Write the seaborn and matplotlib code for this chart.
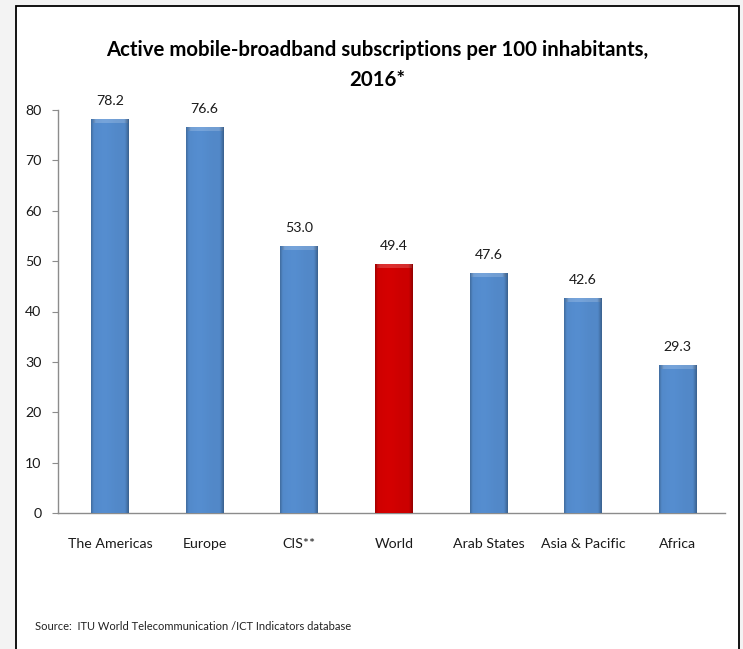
import numpy as np
import pandas as pd
import matplotlib
matplotlib.use("Agg")
import matplotlib.pyplot as plt
import seaborn as sns
from matplotlib.patches import Rectangle
from matplotlib.colors import to_rgb
from matplotlib import font_manager

# ---------------- data ----------------
categories = ["The Americas", "Europe", "CIS**", "World", "Arab States", "Asia & Pacific", "Africa"]
values = [78.2, 76.6, 53.0, 49.4, 47.6, 42.6, 29.3]
value_labels = ["78.2", "76.6", "53.0", "49.4", "47.6", "42.6", "29.3"]
y_ticks = [0, 10, 20, 30, 40, 50, 60, 70, 80]
title_line1 = "Active mobile-broadband subscriptions per 100 inhabitants,"
title_line2 = "2016*"
source_text = "Source:  ITU World Telecommunication /ICT Indicators database"
highlight = "World"

# ---------------- style ----------------
sns.set_theme(style="white")
names = {f.name for f in font_manager.fontManager.ttflist}
narrow = "Liberation Sans Narrow" in names
if narrow:
    plt.rcParams["font.family"] = ["Liberation Sans Narrow", "DejaVu Sans"]
    fs_title, fs_tick, fs_src = 16, 11.5, 9
else:
    plt.rcParams["font.family"] = ["Lato", "DejaVu Sans"]
    fs_title, fs_tick, fs_src = 14.7, 10.2, 8

W, H = 743, 649
fig = plt.figure(figsize=(W / 100, H / 100), dpi=100)
fig.patch.set_facecolor("#f3f3f3")
panel = Rectangle((16 / W, -0.01), (739 - 16) / W, 1 - 6 / H + 0.01,
                  transform=fig.transFigure, facecolor="white",
                  edgecolor="black", lw=1.3, zorder=-5)
fig.patches.append(panel)

ax = fig.add_axes([58 / W, 1 - 513 / H, (725 - 58) / W, (513 - 110) / H])
ax.set_facecolor("none")
ax.set_zorder(2)

df = pd.DataFrame({"region": categories, "value": values})
blue, red = "#5288C8", "#CC0000"
palette = {c: (red if c == highlight else blue) for c in categories}
sns.barplot(data=df, x="region", y="value", hue="region", palette=palette,
            width=0.40, saturation=1, legend=False, ax=ax, zorder=2)

ax.set_ylim(0, 80)
ax.set_xlim(-0.55, 6.5)

# bevel / gradient shading over each bar
prof = np.linspace(0, 1, 64)
shade = 1.0 - 0.20 * np.clip(1 - prof / 0.07, 0, 1) - 0.28 * np.clip((prof - 0.9) / 0.10, 0, 1) \
        + 0.04 * np.exp(-((prof - 0.35) / 0.25) ** 2)
for patch, cat in zip(ax.patches, categories):
    base = np.array(to_rgb(red if cat == highlight else blue))
    x0, w, h = patch.get_x(), patch.get_width(), patch.get_height()
    img = np.clip(base[None, None, :] * shade[None, :, None], 0, 1)
    im = ax.imshow(img, extent=[x0, x0 + w, 0, h], aspect="auto",
                   interpolation="bilinear", zorder=3)
    im.set_clip_path(patch)
    # subtle lighter top bevel
    bev = 0.7
    light = np.clip(base + (1 - base) * 0.18, 0, 1)
    top = np.clip(light[None, None, :] * shade[None, :, None], 0, 1)
    im2 = ax.imshow(top, extent=[x0 + w * 0.05, x0 + w * 0.95, h - bev, h],
                    aspect="auto", interpolation="bilinear", zorder=4)
    im2.set_clip_path(patch)
    ax.annotate(value_labels[categories.index(cat)], (x0 + w / 2, h),
                xytext=(0, 9), textcoords="offset points", ha="center",
                va="bottom", fontsize=fs_tick, color="#1a1a1a")

ax.set_ylim(0, 80)
ax.set_xlim(-0.55, 6.5)
ax.set_yticks(y_ticks)
ax.set_yticklabels([str(t) for t in y_ticks])
ax.set_xlabel("")
ax.set_ylabel("")
for s in ["top", "right"]:
    ax.spines[s].set_visible(False)
for s in ["left", "bottom"]:
    ax.spines[s].set_color("#8c8c8c")
    ax.spines[s].set_linewidth(1.0)
ax.tick_params(axis="y", left=True, length=4, width=0.8, color="#8c8c8c",
               labelsize=fs_tick, labelcolor="#1a1a1a", pad=8)
ax.tick_params(axis="x", bottom=False, length=0, labelsize=fs_tick,
               labelcolor="#1a1a1a", pad=18)

fig.text(377 / W, 1 - 50 / H, title_line1,
         ha="center", va="center", fontsize=fs_title, fontweight="bold", color="black")
fig.text(377 / W, 1 - 80 / H, title_line2,
         ha="center", va="center", fontsize=fs_title, fontweight="bold", color="black")
fig.text(35 / W, 1 - 627 / H, source_text, ha="left", va="center",
         fontsize=fs_src, color="#222222")

fig.savefig("out.png", dpi=100, facecolor=fig.get_facecolor())
